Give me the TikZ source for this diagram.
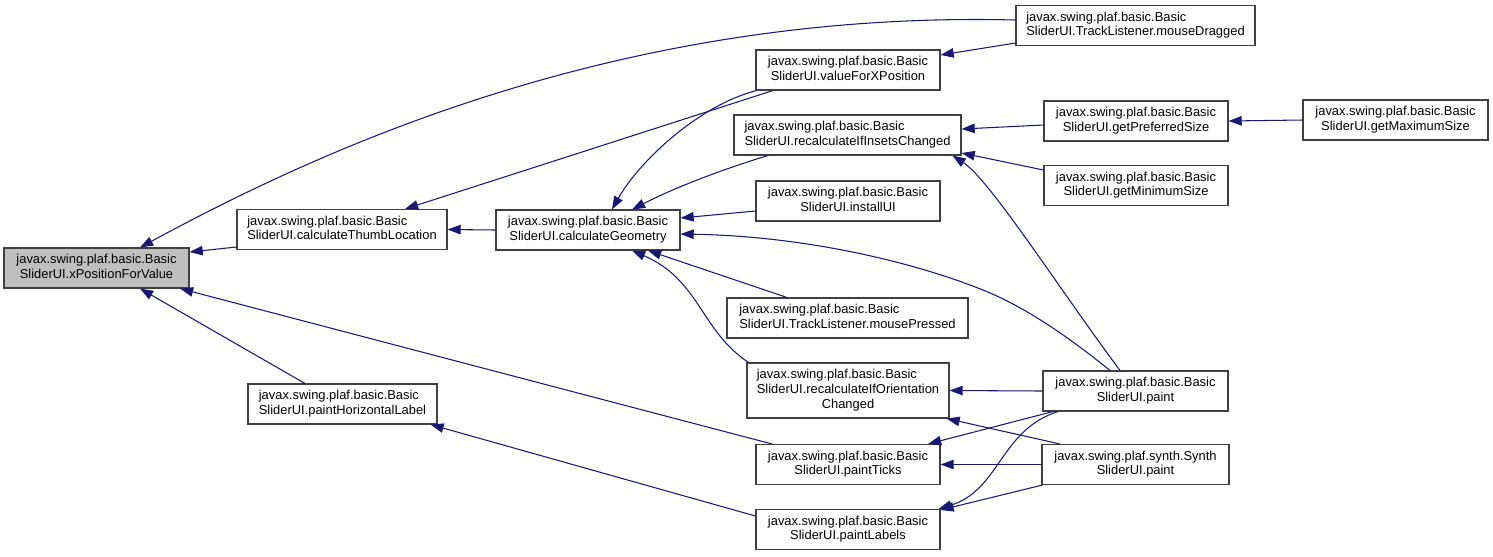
\documentclass[tikz,border=0pt]{standalone}
\usepackage{fontspec}
\setmainfont{Liberation Sans}
\usetikzlibrary{arrows.meta, calc}
\definecolor{calledge}{RGB}{25,25,112}
\definecolor{boxline}{gray}{0.25}
\definecolor{focus}{gray}{0.75}
\newcommand{\fnsize}{\fontsize{7.35}{8.5}\selectfont}
% first line flush left, last line centred (doxygen label layout)
\newcommand{\fnlabel}[2]{\begin{tabular}{@{}l@{}}#1\\\multicolumn{1}{@{}c@{}}{#2}\end{tabular}}
\newcommand{\bsl}[1]{\fnlabel{javax.swing.plaf.basic.Basic}{SliderUI.#1}}

\begin{document}
\begin{tikzpicture}[x=0.02cm, y=-0.02cm, font=\fnsize,
  fn/.style={draw=boxline, fill=white, line width=0.6pt, inner sep=0pt,
    minimum height=0.8cm, minimum width=#1*0.02cm},
  fn/.default=184,
  call/.style={draw=calledge, line width=0.6pt,
    -{Triangle[length=7.5pt, width=5.4pt]}}]
\useasboundingbox[fill=white] (0,0) rectangle (1493,556);

% columns, left to right
\node[fn=185, fill=focus] (xpos) at (96.5,268) {\bsl{xPositionForValue}};
\node[fn=210] (thumb) at (342,229.5) {\bsl{calculateThumbLocation}};
\node[fn=189] (horiz) at (342.5,404) {\bsl{paintHorizontalLabel}};
\node[fn] (geom) at (588,230) {\bsl{calculateGeometry}};
\node[fn] (valx) at (848,70) {\bsl{valueForXPosition}};
\node[fn=227] (insets) at (847.5,135) {\bsl{recalculateIfInsetsChanged}};
\node[fn] (install) at (848,201) {\bsl{installUI}};
\node[fn=241] (pressed) at (847.5,318) {\bsl{TrackListener.mousePressed}};
\node[fn=202, minimum height=1.1cm] (orient) at (848,390.5)
  {\begin{tabular}{@{}l@{}}javax.swing.plaf.basic.Basic\\SliderUI.recalculateIfOrientation\\
   \multicolumn{1}{@{}c@{}}{Changed}\end{tabular}};
\node[fn] (ticks) at (848,464.5) {\bsl{paintTicks}};
\node[fn] (labels) at (848,529.5) {\bsl{paintLabels}};
\node[fn=239] (dragged) at (1135.5,25.5) {\bsl{TrackListener.mouseDragged}};
\node[fn] (pref) at (1136,121) {\bsl{getPreferredSize}};
\node[fn] (minsz) at (1136,185.5) {\bsl{getMinimumSize}};
\node[fn=185] (maxsz) at (1395.5,120) {\bsl{getMaximumSize}};
\node[fn=185] (paint) at (1135.5,391) {\bsl{paint}};
\node[fn=187] (synth) at (1135.5,464.5)
  {\fnlabel{javax.swing.plaf.synth.Synth}{SliderUI.paint}};

% calls into xPositionForValue
\draw[call] ($(thumb.west)+(0,17.5)$) -- ($(xpos.east)+(0,-16)$);
\draw[call] ($(dragged.west)+(0,-5.5)$) .. controls (620,10) and (320,150)
  .. ($(xpos.north)+(43.5,0)$);
\draw[call] ($(horiz.north)+(-37.5,0)$) -- ($(xpos.south)+(43.5,0)$);
\draw[call] ($(ticks.north)+(-76,0)$) -- ($(xpos.south)+(83.5,0)$);

% calculateThumbLocation, calculateGeometry
\draw[call] ($(valx.south)+(-75,0)$) -- ($(thumb.north)+(63,0)$);
\draw[call] (geom.west) -- (thumb.east);
\draw[call] ($(valx.south west)+(1,0)$) .. controls (700,105) and (640,160)
  .. ($(geom.north)+(24,0)$);
\draw[call] ($(insets.south)+(-79.5,0)$) .. controls (730,167) and (680,185)
  .. ($(geom.north)+(44,0)$);
\draw[call] ($(install.west)+(0,10)$) -- ($(geom.east)+(0,-12)$);
\draw[call] ($(paint.north)+(-25.5,0)$) .. controls (1060,330) and (1020,305)
  .. (983,290) .. controls (908,260) and (800,236) .. ($(geom.east)+(0,4)$);
\draw[call] ($(pressed.north)+(-60.5,0)$) -- ($(geom.south)+(60,0)$);
\draw[call] ($(orient.north west)+(2,0)$) .. controls (700,330) and (700,280)
  .. ($(geom.south)+(44,0)$);

% right half
\draw[call] ($(dragged.west)+(0,17.5)$) -- ($(valx.east)+(0,-15)$);
\draw[call] ($(pref.west)+(0,4)$) -- ($(insets.east)+(0,-6)$);
\draw[call] ($(minsz.west)+(0,-15.5)$) -- ($(insets.east)+(0,18)$);
\draw[call] ($(paint.north)+(-15.5,0)$) .. controls (1060,290) and (990,180)
  .. ($(insets.south east)+(-9,0)$);
\draw[call] (maxsz.west) -- (pref.east);
\draw[call] (paint.west) -- (orient.east);
\draw[call] ($(synth.north)+(-75.5,0)$) -- ($(orient.south east)+(-3,0)$);
\draw[call] ($(paint.south)+(-82.5,0)$) -- ($(ticks.north)+(80,0)$);
\draw[call] (synth.west) -- (ticks.east);
\draw[call] ($(paint.south)+(-77.5,0)$) .. controls (1000,430) and (1000,490)
  .. ($(labels.north east)+(-2,0)$);
\draw[call] ($(synth.south west)+(1,0)$) -- ($(labels.north east)+(0,1)$);
\draw[call] ($(labels.west)+(0,-13.5)$) -- ($(horiz.south east)+(-7,0)$);
\end{tikzpicture}
\end{document}
